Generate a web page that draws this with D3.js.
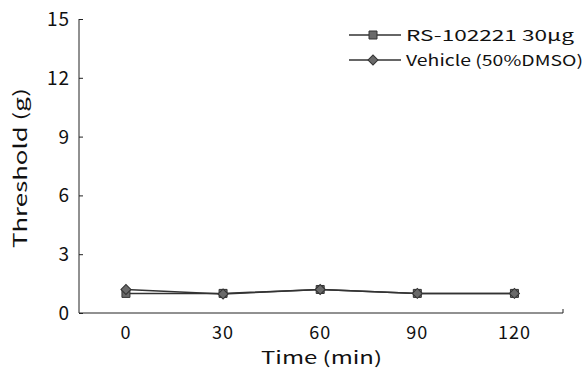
<!DOCTYPE html>
<html><head><meta charset="utf-8">
<script src="https://cdn.jsdelivr.net/npm/d3@7"></script>
<style>body{margin:0;background:#fff}svg{display:block}text{font-family:"Noto Sans CJK JP","DejaVu Sans",sans-serif;fill:#111}</style>
</head><body><svg id="c" width="586" height="374"></svg>
<script>
const times = [0, 30, 60, 90, 120];
const rsValues = [1.0, 1.0, 1.2, 1.0, 1.0];
const vehicleValues = [1.2, 0.97, 1.2, 1.0, 1.0];
const yTicks = [0, 3, 6, 9, 12, 15];
const seriesNames = ["RS-102221 30\u03bcg", "Vehicle (50%DMSO)"];

const svg = d3.select("#c");
const x = d3.scaleLinear().domain([-14.5, 135]).range([79, 563]);
const y = d3.scaleLinear().domain([0, 15]).range([313, 19]);
const ink = "#222";

// y axis
const ya = svg.append("g").attr("transform", "translate(79,0)")
  .call(d3.axisRight(y).tickValues(yTicks).tickSize(4).tickFormat(""));
ya.select(".domain").attr("stroke", ink).attr("d", `M0,${y(15)}V${y(0)}`);
ya.selectAll(".tick line").attr("stroke", ink);
svg.append("g").selectAll("text").data(yTicks).join("text")
  .attr("x", 70).attr("y", d => y(d) + 7).attr("text-anchor", "end")
  .attr("font-size", 19).attr("letter-spacing", 1).text(d => d);

// x axis
const xa = svg.append("g").attr("transform", `translate(0,${y(0)})`)
  .call(d3.axisBottom(x).tickValues([]).tickSizeOuter(0));
xa.select(".domain").attr("stroke", ink).attr("d", "M79,0H563V-4");
svg.append("g").selectAll("text").data(times).join("text")
  .attr("x", d => x(d)).attr("y", 339).attr("text-anchor", "middle")
  .attr("font-size", 18).attr("letter-spacing", 1).text(d => d);

svg.append("text").attr("x", 261).attr("y", 364)
  .attr("font-size", 17).attr("textLength", 121).attr("lengthAdjust", "spacingAndGlyphs")
  .text("Time (min)");
svg.append("text").attr("transform", "translate(27,248) rotate(-90)")
  .attr("font-size", 18).attr("textLength", 160).attr("lengthAdjust", "spacingAndGlyphs")
  .text("Threshold (g)");

const line = d3.line().x((d, i) => x(times[i])).y(d => y(d));
const sqSym = d3.symbol(d3.symbolSquare, 64);
const diaSym = d3.symbol(d3.symbolSquare, 50);
const series = [
  {vals: rsValues, sym: sqSym, rot: 0},
  {vals: vehicleValues, sym: diaSym, rot: 45}
];
series.forEach(s => {
  svg.append("path").datum(s.vals).attr("d", line).attr("fill", "none")
    .attr("stroke", "#333").attr("stroke-width", 1.5);
});
series.forEach(s => {
  svg.append("g").selectAll("path").data(s.vals).join("path")
    .attr("transform", (d, i) => `translate(${x(times[i])},${y(d)}) rotate(${s.rot})`)
    .attr("d", s.sym).attr("fill", "#6a6a6a").attr("stroke", "#333").attr("stroke-width", 1);
});

// legend
const leg = svg.append("g");
const legW = [168, 177];
[35, 60].forEach((ly, i) => {
  leg.append("line").attr("x1", 349).attr("x2", 401).attr("y1", ly).attr("y2", ly)
    .attr("stroke", "#333").attr("stroke-width", 1.5);
  leg.append("path").attr("transform", `translate(373,${ly}) rotate(${series[i].rot})`)
    .attr("d", series[i].sym).attr("fill", "#6a6a6a").attr("stroke", "#333");
  leg.append("text").attr("x", 406).attr("y", ly + 5.5).attr("font-size", 15)
    .attr("textLength", legW[i]).attr("lengthAdjust", "spacingAndGlyphs").text(seriesNames[i]);
});
</script></body></html>
